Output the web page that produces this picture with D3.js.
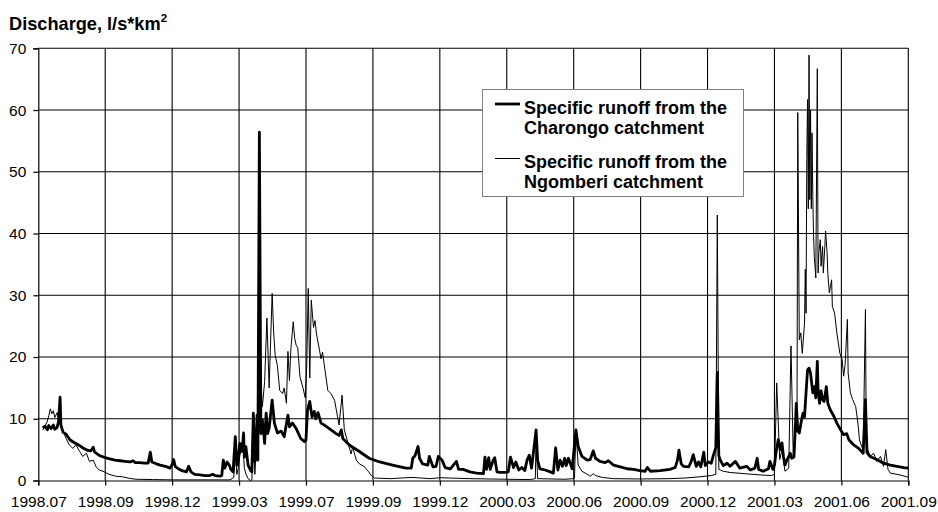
<!DOCTYPE html>
<html>
<head>
<meta charset="utf-8">
<script src="https://cdn.jsdelivr.net/npm/d3@7/dist/d3.min.js"></script>
<style>
  html, body { margin: 0; padding: 0; background: #fff; }
  svg { display: block; font-family: "Liberation Sans", Arial, sans-serif; }
</style>
</head>
<body>
<svg id="chart" width="938" height="512"></svg>
<script>
// Category labels along the time axis (one every 89 days)
const tickLabels = ["1998.07","1998.09","1998.12","1999.03","1999.07","1999.09","1999.12",
                    "2000.03","2000.06","2000.09","2000.12","2001.03","2001.06","2001.09"];
const tickStepDays = 89;
const yTicks = [0, 10, 20, 30, 40, 50, 60, 70];

// Specific runoff, Charongo catchment: [day since 1998.07, l/s*km2]
const charongo = [
  [6,8.5],[9,8.8],[12,8.2],[14,8.9],[17,8.4],[20,9.0],[22,8.3],[25,8.6],[27,9.6],[29,13.5],[30,9.0],[33,7.8],[37,7.5],
  [42,6.6],[47,6.2],[53,5.8],[59,5.3],[65,4.9],[70,4.8],[73,5.4],[75,4.6],[82,4.0],[89,3.7],[95,3.5],[102,3.3],[109,3.2],
  [115,3.1],[122,3.0],[126,3.2],[129,2.9],[135,2.9],[141,2.8],[146,2.8],[149,4.6],[151,3.0],[157,2.7],[162,2.5],[169,2.3],
  [175,2.0],[178,2.6],[180,3.4],[182,2.3],[186,1.9],[191,1.6],[197,1.4],[200,2.3],[203,1.4],[208,1.0],[215,0.9],[222,0.8],
  [228,0.8],[232,1.0],[235,0.8],[242,0.7],[244,0.8],[246,3.3],[248,2.0],[251,3.0],[254,2.5],[256,1.8],[259,1.4],[262,7.1],
  [264,2.5],[266,3.5],[268,6.0],[271,4.7],[273,7.7],[274,3.8],[276,5.5],[279,2.5],[282,1.7],[284,1.4],[286,10.9],[288,3.0],
  [290,6.6],[291,10.6],[292,3.3],[294,56.4],[296,7.6],[298,9.8],[301,6.0],[303,10.9],[305,7.6],[307,8.5],[311,13.0],[314,9.3],
  [318,7.7],[323,8.0],[327,7.1],[332,10.6],[334,8.7],[338,9.3],[343,8.4],[349,6.8],[354,6.3],[356,6.6],[358,11.4],[361,12.8],
  [364,10.3],[367,11.2],[369,10.0],[372,11.0],[376,9.3],[380,9.0],[387,8.4],[396,7.6],[400,7.3],[403,8.2],[405,6.8],[414,5.7],
  [427,4.7],[440,3.6],[454,3.0],[471,2.5],[489,2.0],[496,2.0],[498,3.6],[501,4.0],[505,5.5],[507,3.6],[511,2.7],[518,2.5],
  [520,3.9],[525,2.2],[529,2.3],[532,3.9],[537,3.3],[541,2.1],[548,1.9],[556,3.1],[559,1.8],[565,1.8],[574,1.4],[583,1.2],
  [592,1.1],[594,3.8],[596,1.8],[599,3.7],[601,1.8],[605,3.3],[607,3.7],[610,1.4],[614,1.3],[621,1.3],[625,1.4],[628,3.8],
  [632,2.1],[635,3.0],[639,1.7],[643,2.1],[647,1.6],[650,3.3],[653,4.1],[656,2.0],[662,8.2],[664,3.3],[667,1.9],[674,1.7],
  [681,1.4],[685,1.2],[688,5.3],[691,1.7],[694,3.3],[697,2.3],[700,3.6],[702,2.4],[705,3.6],[710,1.9],[715,8.2],[718,5.5],
  [723,3.9],[730,3.3],[734,3.4],[738,4.8],[741,3.6],[747,3.1],[754,2.9],[758,3.2],[765,2.5],[774,2.2],[783,1.9],[792,1.8],
  [800,1.6],[807,1.5],[810,2.1],[814,1.5],[827,1.6],[840,1.8],[847,2.1],[850,3.3],[852,4.9],[855,2.7],[858,2.3],[865,2.2],
  [868,3.0],[871,4.2],[875,2.3],[878,3.0],[881,2.2],[885,4.6],[887,2.4],[891,3.0],[895,2.8],[898,4.2],[901,5.3],[903,17.5],
  [905,4.0],[907,3.3],[911,2.4],[916,2.8],[920,2.3],[927,3.1],[933,2.0],[942,2.3],[947,1.7],[953,2.0],[956,3.6],[958,1.8],
  [964,1.5],[971,1.9],[973,3.1],[977,1.8],[979,2.5],[981,4.4],[984,6.6],[987,5.0],[989,6.1],[991,3.9],[993,2.5],[996,3.4],
  [1000,4.4],[1002,3.6],[1005,3.8],[1007,9.3],[1008,12.5],[1010,8.0],[1012,7.7],[1015,9.8],[1017,10.9],[1019,10.3],[1021,14.2],
  [1023,17.9],[1025,18.2],[1027,17.4],[1028,16.3],[1030,14.2],[1032,15.2],[1034,13.4],[1036,19.3],[1037,14.7],[1039,12.5],
  [1041,14.5],[1043,13.1],[1045,12.8],[1048,15.2],[1050,12.5],[1053,11.5],[1058,10.4],[1062,9.3],[1067,8.2],[1071,7.4],
  [1075,7.6],[1078,6.6],[1084,5.8],[1091,5.2],[1097,4.4],[1100,13.1],[1102,4.6],[1106,3.9],[1115,3.4],[1124,2.8],[1133,2.5],
  [1142,2.3],[1151,2.1],[1157,2.0]
];

// Specific runoff, Ngomberi catchment: [day since 1998.07, l/s*km2]
const ngomberi = [
  [6,8.2],[9,8.8],[12,9.6],[14,10.5],[16,11.6],[18,10.8],[20,11.3],[22,10.2],[25,11.0],[27,9.8],[29,10.5],[31,8.5],[33,8.0],
  [37,6.8],[41,5.8],[46,5.2],[50,5.8],[55,4.7],[59,3.9],[64,4.4],[68,3.1],[73,3.3],[77,2.2],[81,1.7],[86,1.5],[94,1.0],
  [103,0.7],[112,0.6],[121,0.35],[130,0.2],[152,0.15],[180,0.1],[244,0.1],[255,0.1],[260,0.5],[262,5.0],[264,1.0],[266,2.0],
  [268,4.0],[272,6.3],[274,2.0],[276,1.1],[279,0.3],[282,0.0],[284,0.1],[286,6.0],[288,1.0],[290,5.4],[291,4.5],[292,3.3],
  [294,19.0],[298,12.0],[301,16.0],[304,26.3],[307,15.0],[311,30.3],[313,24.0],[315,20.3],[318,18.6],[321,14.6],[325,14.1],
  [327,15.0],[330,12.5],[332,20.9],[334,16.2],[336,21.4],[339,25.7],[341,23.0],[343,21.9],[345,21.5],[348,16.8],[352,15.0],
  [355,13.4],[357,18.6],[359,31.1],[361,16.6],[363,29.2],[366,24.8],[368,25.9],[370,23.7],[374,21.1],[376,19.7],[378,20.8],
  [380,19.0],[385,14.6],[389,14.1],[394,13.0],[398,10.3],[400,9.0],[404,13.8],[407,8.2],[412,6.0],[416,4.3],[418,5.4],
  [423,3.3],[427,2.7],[434,2.2],[438,1.6],[443,0.8],[447,0.4],[468,0.3],[497,0.5],[521,0.3],[534,0.45],[574,0.3],[622,0.2],
  [654,0.15],[661,0.3],[662,7.5],[664,0.3],[700,0.2],[713,0.3],[715,7.8],[718,2.5],[723,1.5],[730,1.0],[734,0.7],[738,1.1],
  [741,0.8],[750,0.5],[765,0.3],[800,0.25],[840,0.3],[860,0.4],[880,0.6],[895,0.8],[901,1.0],[903,43.0],[905,1.8],[911,1.5],
  [920,1.3],[940,1.1],[960,0.9],[975,0.8],[979,1.0],[982,15.8],[986,3.4],[989,5.0],[993,1.5],[998,2.0],[1001,21.8],[1004,3.9],
  [1006,7.1],[1009,9.8],[1010,59.6],[1012,22.8],[1014,23.9],[1016,20.6],[1019,25.5],[1020,34.2],[1021,27.1],[1022,52.0],
  [1023,61.7],[1024,44.0],[1025,68.9],[1026,45.5],[1027,60.0],[1028,44.0],[1029,56.3],[1030,46.0],[1031,39.6],[1032,36.3],
  [1034,32.8],[1036,66.7],[1037,33.6],[1038,36.9],[1040,39.0],[1041,34.7],[1043,37.9],[1044,33.6],[1046,37.9],[1047,40.4],
  [1049,36.9],[1050,33.5],[1052,30.4],[1055,32.5],[1056,28.2],[1059,27.1],[1062,23.9],[1066,20.6],[1069,19.6],[1071,16.9],
  [1073,18.8],[1076,26.1],[1077,17.4],[1080,14.2],[1083,13.1],[1087,12.0],[1090,9.3],[1092,6.6],[1095,5.5],[1097,5.0],
  [1100,27.7],[1101,8.2],[1103,5.0],[1106,3.9],[1111,4.4],[1115,3.1],[1120,3.9],[1124,2.3],[1127,5.0],[1130,1.8],[1133,1.2],
  [1146,0.9],[1155,0.6],[1157,0.5]
];

const legendItems = [
  { lines: ["Specific runoff from the", "Charongo catchment"], width: 2.8 },
  { lines: ["Specific runoff from the", "Ngomberi catchment"], width: 1 }
];

const svg = d3.select("#chart");
const plot = { left: 38.3, right: 908.3, top: 48.3, bottom: 480.5 };
const tickDays = tickLabels.map((_, i) => i * tickStepDays);

const x = d3.scaleLinear().domain([0, tickDays[tickDays.length - 1]]).range([plot.left, plot.right]);
const y = d3.scaleLinear().domain([0, 70]).range([plot.bottom, plot.top]);

// gridlines
const grid = svg.append("g").attr("stroke", "#000").attr("stroke-width", 1.1);
grid.selectAll("line.h").data(yTicks.filter(d => d > 0)).join("line")
  .attr("x1", plot.left).attr("x2", plot.right)
  .attr("y1", d => y(d)).attr("y2", d => y(d));
grid.selectAll("line.v").data(tickDays.slice(1)).join("line")
  .attr("x1", d => x(d)).attr("x2", d => x(d))
  .attr("y1", plot.top).attr("y2", plot.bottom);

// axes
const yAxis = svg.append("g").attr("transform", `translate(${plot.left},0)`)
  .call(d3.axisLeft(y).tickValues(yTicks).tickSize(5).tickPadding(7).tickFormat(d3.format("d")));
const xAxis = svg.append("g").attr("transform", `translate(0,${plot.bottom})`)
  .call(d3.axisBottom(x).tickValues(tickDays).tickSize(5).tickPadding(10).tickFormat((d, i) => tickLabels[i]));
[yAxis, xAxis].forEach(a => {
  a.selectAll("path.domain").attr("stroke", "#000").attr("stroke-width", 1.2);
  a.selectAll(".tick line").attr("stroke", "#000").attr("stroke-width", 1.2);
  a.selectAll("text").attr("fill", "#000").style("font-size", "15.5px")
    .style("font-family", '"Liberation Sans", Arial, sans-serif');
});

// series
const line = d3.line().x(d => x(d[0])).y(d => y(d[1])).curve(d3.curveLinear);
svg.append("path").datum(ngomberi).attr("d", line)
  .attr("fill", "none").attr("stroke", "#000").attr("stroke-width", 1).attr("stroke-linejoin", "round");
svg.append("path").datum(charongo).attr("d", line)
  .attr("fill", "none").attr("stroke", "#000").attr("stroke-width", 2.8).attr("stroke-linejoin", "round");

// y-axis title
const title = svg.append("text").attr("x", 9).attr("y", 30)
  .style("font-size", "18.2px").style("font-weight", "bold").attr("fill", "#000")
  .text("Discharge, l/s*km");
title.append("tspan").attr("dy", -8).style("font-size", "11.5px").text("2");

// legend
const lg = svg.append("g");
lg.append("rect").attr("x", 482.5).attr("y", 89.5).attr("width", 261).attr("height", 107)
  .attr("fill", "#fff").attr("stroke", "#808080").attr("stroke-width", 1);
legendItems.forEach((item, i) => {
  const top = 104 + i * 54.5;
  lg.append("line").attr("x1", 495).attr("x2", 520).attr("y1", top).attr("y2", top)
    .attr("stroke", "#000").attr("stroke-width", item.width);
  item.lines.forEach((t, j) => {
    lg.append("text").attr("x", 524).attr("y", top + 9.5 + j * 20)
      .style("font-size", "18px").style("font-weight", "bold").attr("fill", "#000").text(t);
  });
});
</script>
</body>
</html>
